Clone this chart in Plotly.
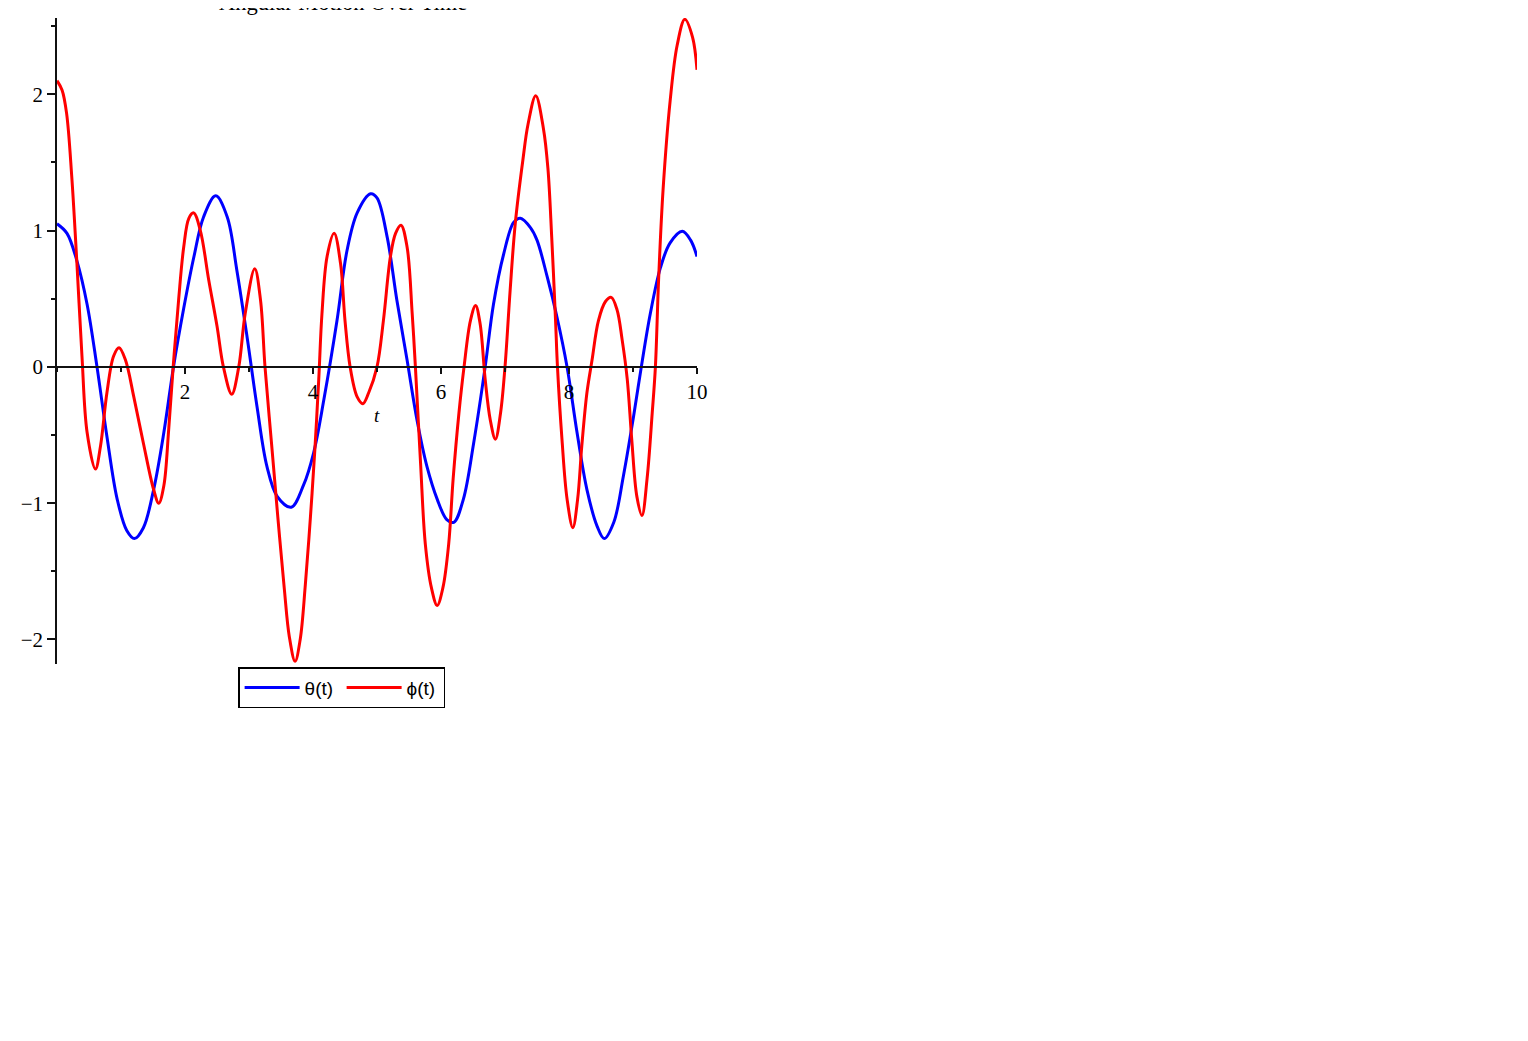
import plotly.graph_objects as go

# theta(t) samples
theta_t = [0.0, 0.156, 0.31, 0.47, 0.625, 0.78, 0.94, 1.09, 1.21, 1.35, 1.51, 1.67, 1.82, 1.98, 2.14, 2.29,
           2.48, 2.66, 2.81, 2.97, 3.125, 3.28, 3.44, 3.66, 3.85, 4.01, 4.17, 4.375, 4.53, 4.69, 4.90,
           5.0, 5.16, 5.31, 5.47, 5.625, 5.78, 5.94, 6.09, 6.20, 6.35, 6.51, 6.69, 6.82, 6.98, 7.135,
           7.24, 7.40, 7.5, 7.66, 7.81, 7.97, 8.125, 8.28, 8.44, 8.55, 8.70, 8.85, 9.01, 9.13, 9.27,
           9.43, 9.58, 9.77, 9.90, 10.0]
theta_v = [1.05, 0.98, 0.78, 0.46, 0.0, -0.51, -0.97, -1.20, -1.26, -1.18, -0.90, -0.48, 0.0, 0.43, 0.81, 1.10,
           1.255, 1.10, 0.71, 0.22, -0.29, -0.73, -0.95, -1.03, -0.87, -0.63, -0.24, 0.34, 0.85, 1.13, 1.27,
           1.24, 0.95, 0.49, 0.05, -0.39, -0.73, -0.97, -1.12, -1.14, -0.97, -0.56, 0.0, 0.46, 0.83, 1.06,
           1.09, 1.02, 0.93, 0.66, 0.37, 0.0, -0.48, -0.90, -1.17, -1.26, -1.14, -0.80, -0.36, 0.0, 0.39,
           0.73, 0.91, 0.995, 0.93, 0.81]

# phi(t) samples
phi_t = [0.0, 0.08, 0.15, 0.23, 0.31, 0.39, 0.47, 0.60, 0.68, 0.78, 0.885, 0.97, 1.07, 1.20, 1.35, 1.51,
         1.59, 1.67, 1.745, 1.82, 1.90, 1.98, 2.06, 2.135, 2.24, 2.37, 2.5, 2.60, 2.73, 2.84, 2.94, 3.09,
         3.18, 3.25, 3.35, 3.45, 3.55, 3.63, 3.72, 3.80, 3.88, 3.96, 4.03, 4.09, 4.14, 4.22, 4.33, 4.43,
         4.50, 4.58, 4.69, 4.78, 4.87, 5.0, 5.10, 5.21, 5.29, 5.375, 5.47, 5.55, 5.60, 5.68, 5.755, 5.85,
         5.94, 6.03, 6.12, 6.19, 6.28, 6.36, 6.46, 6.54, 6.61, 6.69, 6.77, 6.85, 6.93, 7.0, 7.08, 7.16,
         7.28, 7.36, 7.48, 7.60, 7.67, 7.73, 7.79, 7.82, 7.89, 7.97, 8.06, 8.135, 8.20, 8.28, 8.36, 8.46,
         8.57, 8.66, 8.75, 8.83, 8.91, 8.98, 9.06, 9.14, 9.22, 9.30, 9.35, 9.40, 9.47, 9.58, 9.69, 9.81,
         9.93, 10.0]
phi_v = [2.10, 2.03, 1.86, 1.40, 0.77, 0.08, -0.48, -0.75, -0.58, -0.19, 0.08, 0.14, 0.05, -0.22, -0.56, -0.90,
         -1.0, -0.87, -0.46, 0.03, 0.49, 0.88, 1.09, 1.13, 1.0, 0.64, 0.30, 0.0, -0.20, 0.0, 0.39, 0.72,
         0.49, 0.0, -0.55, -1.1, -1.62, -1.98, -2.16, -2.0, -1.6, -1.1, -0.6, -0.09, 0.39, 0.81, 0.98, 0.76,
         0.34, 0.0, -0.22, -0.27, -0.19, 0.0, 0.34, 0.81, 0.98, 1.04, 0.88, 0.39, 0.0, -0.70, -1.30, -1.62,
         -1.75, -1.62, -1.30, -0.82, -0.34, 0.0, 0.34, 0.45, 0.32, -0.09, -0.39, -0.53, -0.34, 0.0, 0.56, 1.05,
         1.52, 1.78, 1.99, 1.75, 1.46, 0.95, 0.34, 0.0, -0.53, -0.97, -1.18, -0.97, -0.58, -0.19, 0.05, 0.34,
         0.48, 0.51, 0.42, 0.20, -0.09, -0.53, -0.95, -1.09, -0.82, -0.34, 0.0, 0.64, 1.3, 1.95, 2.36, 2.55,
         2.42, 2.18]

x_ticks = [2, 4, 6, 8, 10]
y_ticks = [-2, -1, 0, 1, 2]
y_labels = ["−2", "−1", "0", "1", "2"]
y_range = [-2.18, 2.56]

serif = "Liberation Serif"

fig = go.Figure()
fig.add_trace(go.Scatter(x=theta_t, y=theta_v, mode="lines", name="θ(t)",
                         line=dict(color="#0000ff", width=3, shape="spline", smoothing=1.0)))
fig.add_trace(go.Scatter(x=phi_t, y=phi_v, mode="lines", name="ϕ(t)",
                         line=dict(color="#ff0000", width=3, shape="spline", smoothing=1.0)))

zero_pos = (0 - y_range[0]) / (y_range[1] - y_range[0])

fig.update_layout(
    width=1512, height=1025,
    margin=dict(l=49, r=823, t=10, b=369),
    paper_bgcolor="white", plot_bgcolor="white",
    showlegend=True,
    legend=dict(orientation="h", x=0.283, xanchor="left", y=-0.005, yanchor="top",
                bordercolor="black", borderwidth=1.5, bgcolor="white",
                itemwidth=55, entrywidth=32, entrywidthmode="pixels",
                font=dict(family="Liberation Sans", size=19, color="black")),
    xaxis=dict(range=[0, 10], anchor="free", position=zero_pos, showgrid=False, zeroline=False,
               automargin=False,
               showline=True, linecolor="#111111", linewidth=1.6,
               tickmode="array", tickvals=x_ticks, ticktext=[str(v) for v in x_ticks],
               ticks="outside", ticklen=6, tickcolor="#111111", tickwidth=1.5,
               minor=dict(tickmode="linear", tick0=0, dtick=1, ticks="outside", ticklen=4,
                          tickcolor="#111111", tickwidth=1.5, showgrid=False),
               tickfont=dict(family=serif, size=21, color="black")),
    yaxis=dict(range=y_range, showgrid=False, zeroline=False, automargin=False,
               showline=True, linecolor="#111111", linewidth=1.6,
               tickmode="array", tickvals=y_ticks, ticktext=y_labels,
               ticks="outside", ticklen=8, tickcolor="#111111", tickwidth=1.5,
               minor=dict(tickmode="linear", tick0=0, dtick=0.5, ticks="outside", ticklen=4,
                          tickcolor="#111111", tickwidth=1.5, showgrid=False),
               tickfont=dict(family=serif, size=21, color="black")),
)

fig.add_annotation(text="<i>t</i>", xref="x", yref="y", x=5, y=0, yshift=-49,
                   showarrow=False, font=dict(family=serif, size=19, color="black"))
fig.add_annotation(text="Angular Motion Over Time", xref="paper", yref="paper",
                   x=0.447, y=1, yshift=1, xanchor="center", yanchor="bottom",
                   showarrow=False, font=dict(family=serif, size=22.5, color="black"))

fig.write_html("out.html")
